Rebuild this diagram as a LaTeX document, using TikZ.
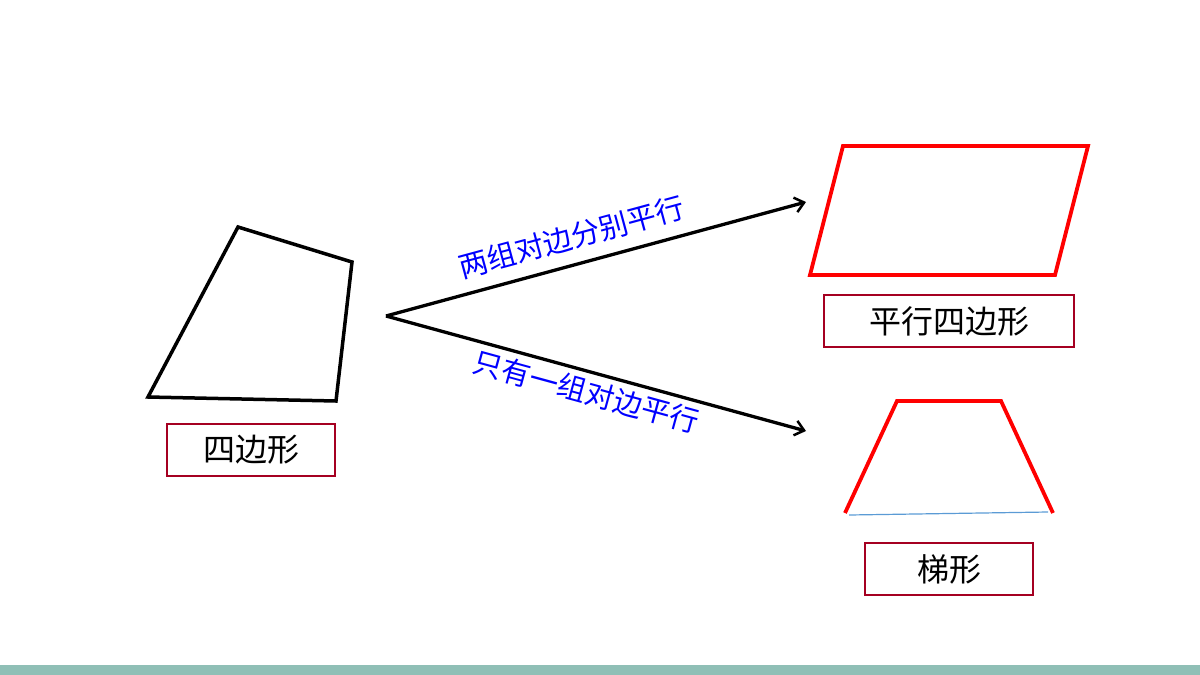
\documentclass[tikz,border=0pt]{standalone}
\usepackage{fontspec}
\usepackage{xcolor}
\newfontfamily\cjk{Noto Sans CJK SC}
\usetikzlibrary{positioning,arrows.meta}
\definecolor{boxred}{HTML}{A50021}
\definecolor{shapered}{HTML}{FF0000}
\definecolor{labelblue}{HTML}{0000FF}
\definecolor{baseblue}{HTML}{5B9BD5}
\definecolor{barteal}{HTML}{8FBFB6}

\begin{document}
\begin{tikzpicture}[x=1pt,y=-1pt,
   namebox/.style={draw=boxred, line width=2.5pt, inner sep=0pt,
      minimum height=52pt, font=\cjk\fontsize{32}{32}\selectfont},
   quadline/.style={line width=3.5pt, line join=miter},
   redline/.style={draw=shapered, line width=3.8pt, line join=miter},
   branch/.style={line width=3.3pt, -{Straight Barb[length=9pt,width=15pt,line width=2.5pt]}},
   branchlabel/.style={sloped, text=labelblue, font=\cjk\fontsize{29}{29}\selectfont}
]
\useasboundingbox (0,0) rectangle (1200,675);
\fill[barteal] (0,665) rectangle (1200,675);

% quadrilateral
\coordinate (qa) at (238,227);
\coordinate (qb) at (352,262);
\coordinate (qc) at (336,401);
\coordinate (qd) at (148,397);
\draw[quadline] (qa) -- (qb) -- (qc) -- (qd) -- cycle;
\node[namebox, minimum width=168pt] (quad) at (251,450) {四边形};

% branches
\coordinate (fork) at (386,316);
\coordinate (uptip) at (806,202);
\coordinate (downtip) at (806,431);
\draw[branch] (fork) -- node[branchlabel, pos=0.46, above=9pt] (twopairs) {两组对边分别平行} (uptip);
\draw[branch] (fork) -- node[branchlabel, pos=0.49, below=2pt] (onepair) {只有一组对边平行} (downtip);

% parallelogram
\coordinate (pa) at (843,146);
\coordinate (pb) at (1088,146);
\coordinate (pc) at (1055,275);
\coordinate (pd) at (810,275);
\draw[redline] (pa) -- (pb) -- (pc) -- (pd) -- cycle;
\node[namebox, minimum width=250pt] (para) at (949,321) {平行四边形};

% trapezoid
\coordinate (ta) at (897,401);
\coordinate (tb) at (1001,401);
\coordinate (tc) at (1053,513);
\coordinate (td) at (845,513);
\coordinate (bl) at (849,515);
\coordinate (br) at (1048,512);
\draw[redline] (td) -- (ta) -- (tb) -- (tc);
\draw[baseblue, line width=1.2pt] (bl) -- (br);
\node[namebox, minimum width=168pt] (trap) at (949,569) {梯形};
\end{tikzpicture}
\end{document}
